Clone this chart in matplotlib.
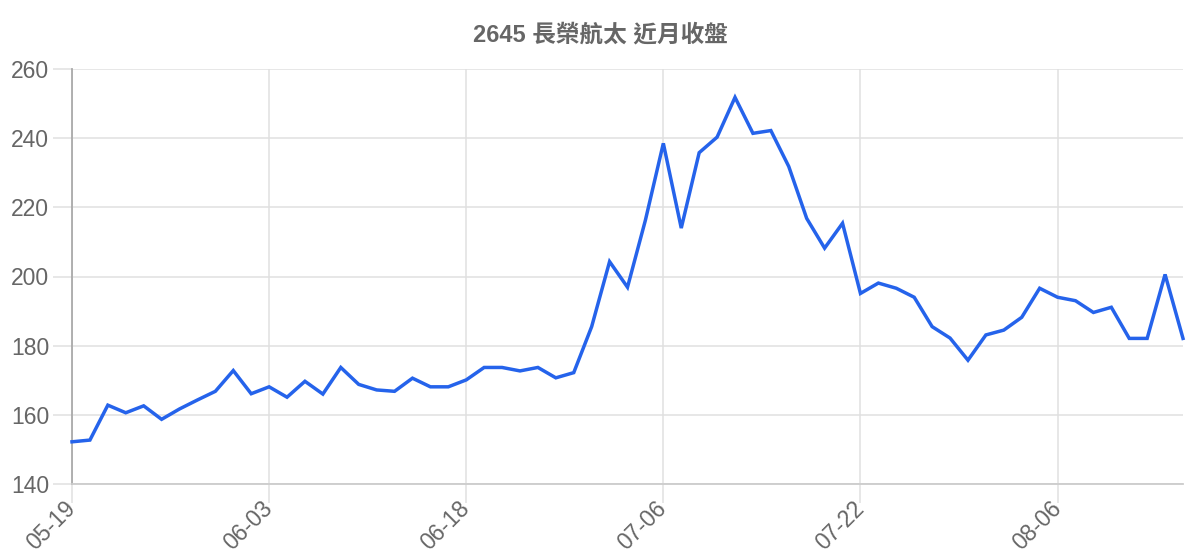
import matplotlib
matplotlib.use("Agg")
import matplotlib.pyplot as plt

title = "2645 長榮航太 近月收盤"
tick_labels = ["05-19", "06-03", "06-18", "07-06", "07-22", "08-06"]
tick_step = 11
closes = [
    152.2, 152.7, 162.8, 160.6, 162.6, 158.7, 161.7, 164.3, 166.8, 172.8,
    166.1, 168.1, 165.1, 169.7, 166.0, 173.7, 168.8, 167.2, 166.8, 170.6,
    168.1, 168.1, 170.1, 173.7, 173.7, 172.7, 173.7, 170.7, 172.2, 185.5,
    204.3, 196.9, 216.3, 238.5, 214.0, 235.8, 240.3, 251.8, 241.4, 242.2,
    231.8, 216.8, 208.2, 215.4, 195.1, 198.1, 196.6, 194.0, 185.5, 182.2,
    175.8, 183.1, 184.5, 188.2, 196.6, 194.0, 193.0, 189.6, 191.1, 182.1,
    182.1, 200.6, 182.1,
]
y_ticks = [140, 160, 180, 200, 220, 240, 260]

fams = ["Liberation Sans", "Noto Sans CJK TC", "DejaVu Sans"]
plt.rcParams["font.family"] = fams

fig = plt.figure(figsize=(12, 5.6), dpi=100)
ax = fig.add_axes([72 / 1200, 76 / 560, 1111 / 1200, 415 / 560])

x = list(range(len(closes)))
ax.plot(x, closes, color="#2563eb", lw=2.5, solid_joinstyle="miter", zorder=3, clip_on=False)

ax.set_xlim(0, len(closes) - 1)
ax.set_ylim(y_ticks[0], y_ticks[-1])
ax.set_yticks(y_ticks)
ax.set_yticklabels([str(v) for v in y_ticks])
ax.set_xticks(list(range(0, len(closes), tick_step)))
ax.set_xticklabels(tick_labels, rotation=45, ha="right", va="center", rotation_mode="anchor")

ax.grid(True, color="#e0e0e0", lw=1.1, zorder=0)
ax.tick_params(axis="both", length=13.5, width=1.1, color="#e0e0e0",
               labelsize=16.5, labelcolor="#666666")
ax.tick_params(axis="y", pad=3.0)
ax.tick_params(axis="x", pad=1.5)

for s in ["top", "right"]:
    ax.spines[s].set_visible(False)
ax.spines["left"].set_color("#aaaaaa")
ax.spines["left"].set_linewidth(1.3)
ax.spines["bottom"].set_color("#cccccc")
ax.spines["bottom"].set_linewidth(1.3)
ax.set_axisbelow(True)

fig.text(0.5, 1 - 35 / 560, title, ha="center", va="center",
         fontsize=17, fontweight="bold", color="#666666", family=fams)

fig.savefig("out.png", dpi=100)
